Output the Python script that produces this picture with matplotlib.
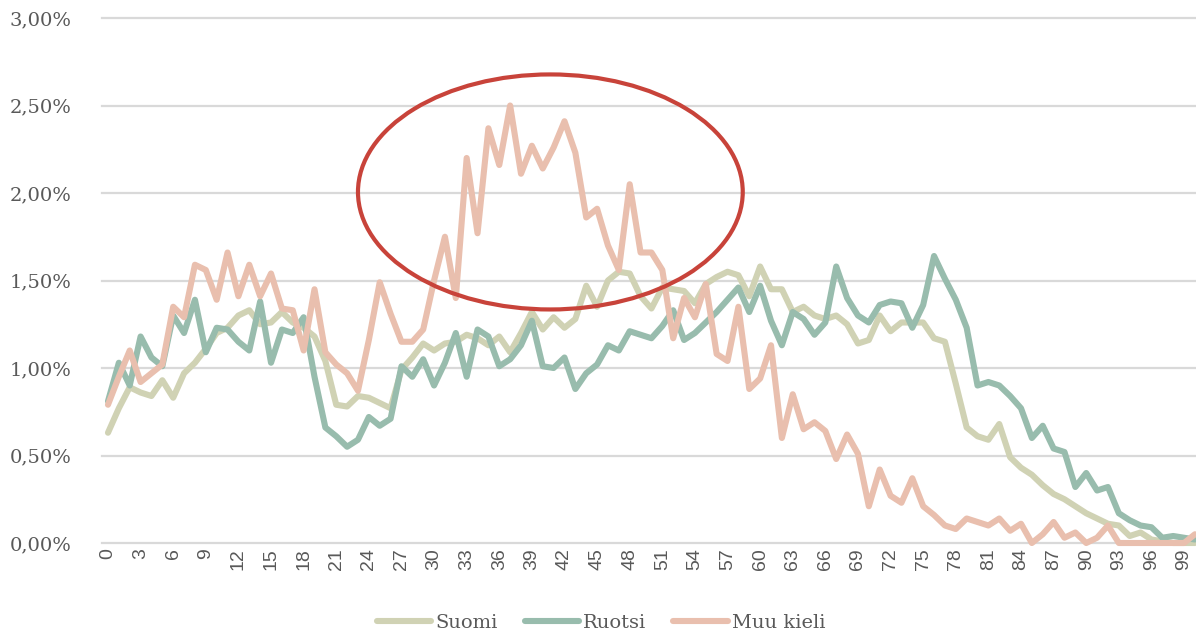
import matplotlib

matplotlib.use("Agg")
import matplotlib.pyplot as plt
import numpy as np
from matplotlib.lines import Line2D
from matplotlib.patches import Ellipse

ages = list(range(0, 101))

suomi = [
    0.63, 0.77, 0.89, 0.86, 0.84, 0.93, 0.83, 0.97, 1.03, 1.11,
    1.20, 1.23, 1.30, 1.33, 1.25, 1.26, 1.32, 1.26, 1.23, 1.18,
    1.04, 0.79, 0.78, 0.84, 0.83, 0.80, 0.77, 0.99, 1.06, 1.14,
    1.10, 1.14, 1.15, 1.19, 1.17, 1.13, 1.18, 1.09, 1.20, 1.32,
    1.22, 1.29, 1.23, 1.28, 1.47, 1.35, 1.50, 1.55, 1.54, 1.41,
    1.34, 1.46, 1.45, 1.44, 1.37, 1.48, 1.52, 1.55, 1.53, 1.41,
    1.58, 1.45, 1.45, 1.32, 1.35, 1.30, 1.28, 1.30, 1.25, 1.14,
    1.16, 1.30, 1.21, 1.26, 1.26, 1.26, 1.17, 1.15, 0.91, 0.66,
    0.61, 0.59, 0.68, 0.49, 0.43, 0.39, 0.33, 0.28, 0.25, 0.21,
    0.17, 0.14, 0.11, 0.10, 0.04, 0.06, 0.02, 0.01, 0.00, 0.00,
    0.00,
]

ruotsi = [
    0.81, 1.03, 0.90, 1.18, 1.06, 1.01, 1.30, 1.20, 1.39, 1.09,
    1.23, 1.22, 1.15, 1.10, 1.38, 1.03, 1.22, 1.20, 1.29, 0.95,
    0.66, 0.61, 0.55, 0.59, 0.72, 0.67, 0.71, 1.01, 0.95, 1.05,
    0.90, 1.03, 1.20, 0.95, 1.22, 1.18, 1.01, 1.05, 1.13, 1.27,
    1.01, 1.00, 1.06, 0.88, 0.97, 1.02, 1.13, 1.10, 1.21, 1.19,
    1.17, 1.24, 1.33, 1.16, 1.20, 1.26, 1.32, 1.39, 1.46, 1.32,
    1.47, 1.27, 1.13, 1.32, 1.28, 1.19, 1.26, 1.58, 1.40, 1.30,
    1.26, 1.36, 1.38, 1.37, 1.23, 1.36, 1.64, 1.51, 1.39, 1.23,
    0.90, 0.92, 0.90, 0.84, 0.77, 0.60, 0.67, 0.54, 0.52, 0.32,
    0.40, 0.30, 0.32, 0.17, 0.13, 0.10, 0.09, 0.03, 0.04, 0.03,
    0.02,
]

muu_kieli = [
    0.79, 0.95, 1.10, 0.92, 0.97, 1.02, 1.35, 1.29, 1.59, 1.56,
    1.39, 1.66, 1.41, 1.59, 1.41, 1.54, 1.34, 1.33, 1.10, 1.45,
    1.09, 1.02, 0.97, 0.87, 1.16, 1.49, 1.31, 1.15, 1.15, 1.22,
    1.50, 1.75, 1.40, 2.20, 1.77, 2.37, 2.16, 2.50, 2.11, 2.27,
    2.14, 2.26, 2.41, 2.23, 1.86, 1.91, 1.70, 1.56, 2.05, 1.66,
    1.66, 1.56, 1.17, 1.40, 1.29, 1.48, 1.08, 1.04, 1.35, 0.88,
    0.94, 1.13, 0.60, 0.85, 0.65, 0.69, 0.64, 0.48, 0.62, 0.51,
    0.21, 0.42, 0.27, 0.23, 0.37, 0.21, 0.16, 0.10, 0.08, 0.14,
    0.12, 0.10, 0.14, 0.07, 0.11, 0.00, 0.05, 0.12, 0.03, 0.06,
    0.00, 0.03, 0.10, 0.00, 0.00, 0.00, 0.00, 0.00, 0.00, 0.00,
    0.05,
]

series_names = ["Suomi", "Ruotsi", "Muu kieli"]
series_colors = ["#D0D2B4", "#98BCAD", "#E9BFAE"]
y_ticks = [0.0, 0.5, 1.0, 1.5, 2.0, 2.5, 3.0]

# highlighted area (age centre, % centre, width in ages, height in %)
highlight = (40.7, 2.006, 35.4, 1.343)

TEXT_GRAY = "#595959"

fig = plt.figure(figsize=(11.96, 6.36), dpi=100)
ax = fig.add_axes([102 / 1196, 1 - 543 / 636, 1 - 102 / 1196, (543 - 18) / 636])

for values, name, color in zip([suomi, ruotsi, muu_kieli], series_names, series_colors):
    ax.plot(
        ages,
        values,
        color=color,
        linewidth=4.4,
        solid_capstyle="round",
        solid_joinstyle="round",
        clip_on=False,
        zorder=3,
    )

cx, cy, w, h = highlight
ax.add_patch(
    Ellipse((cx, cy), w, h, fill=False, edgecolor="#C8433A", linewidth=3.0, zorder=4, clip_on=False)
)

ax.set_xlim(-0.55, 100.1)
ax.set_ylim(0, 3.0)
ax.set_yticks(y_ticks)
ax.set_yticklabels([f"{v:.2f}%".replace(".", ",") for v in y_ticks])
ax.set_xticks(ages[::3])
ax.set_xticklabels([str(a) for a in ages[::3]], rotation=90)

ax.grid(axis="y", color="#D9D9D9", linewidth=1.6)
ax.set_axisbelow(True)
for gl in ax.get_ygridlines():
    gl.set_clip_on(False)
for spine in ax.spines.values():
    spine.set_visible(False)

ax.tick_params(axis="both", length=0)
ax.tick_params(axis="y", pad=22, labelcolor=TEXT_GRAY)
ax.tick_params(axis="x", pad=4, labelcolor=TEXT_GRAY)
for lbl in ax.get_yticklabels():
    lbl.set_fontfamily("DejaVu Serif")
    lbl.set_fontsize(14)
for lbl in ax.get_xticklabels():
    lbl.set_fontfamily("Liberation Sans")
    lbl.set_fontsize(14)

handles = [
    Line2D([0], [0], color=c, linewidth=4.4, solid_capstyle="round", label=n)
    for n, c in zip(series_names, series_colors)
]
fig.legend(
    handles=handles,
    loc="center",
    bbox_to_anchor=(601 / 1196, 1 - 623 / 636),
    ncol=3,
    frameon=False,
    handlelength=2.8,
    handletextpad=0.2,
    columnspacing=1.4,
    prop={"family": "DejaVu Serif", "size": 14},
    labelcolor=TEXT_GRAY,
)

fig.savefig("out.png", dpi=100)
